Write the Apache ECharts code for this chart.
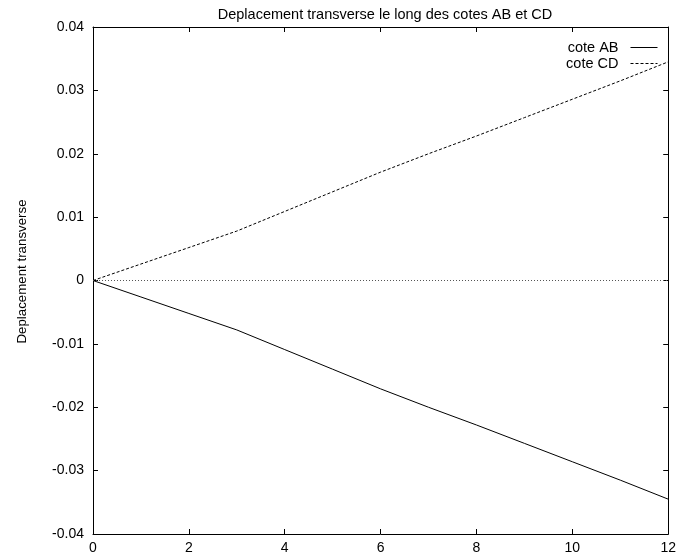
<!DOCTYPE html>
<html>
<head>
<meta charset="utf-8">
<script src="https://cdn.jsdelivr.net/npm/echarts@6/dist/echarts.min.js"></script>
<style>html,body{margin:0;padding:0;background:#fff}#c{width:679px;height:560px}</style>
</head>
<body>
<div id="c"></div>
<script>
var titleText = 'Deplacement transverse le long des cotes AB et CD';
var yName = 'Deplacement transverse';
var xs = [0, 1, 2, 3, 4, 5, 6, 7, 8, 9, 10, 11, 12];
var coteAB = [0, -0.0026, -0.0052, -0.0078, -0.0109, -0.0140, -0.0171, -0.0200, -0.0228, -0.0257, -0.0286, -0.0315, -0.0345];
var coteCD = [0, 0.0026, 0.0052, 0.0078, 0.0109, 0.0140, 0.0171, 0.0200, 0.0228, 0.0257, 0.0286, 0.0315, 0.0345];
var seriesNames = ['cote AB', 'cote CD'];

function pairs(v) { return xs.map(function (x, i) { return [x, v[i]]; }); }

var font = 'Liberation Sans, Arial, Helvetica, sans-serif';
var chart = echarts.init(document.getElementById('c'));
function axisCommon() {
  return {
    axisLine: { show: true, onZero: false, lineStyle: { color: '#000', width: 1 } },
    axisTick: { show: true, inside: true, length: 5, lineStyle: { color: '#000' } },
    splitLine: { show: false }
  };
}
chart.setOption({
  animation: false,
  backgroundColor: '#fff',
  textStyle: { fontFamily: font },
  title: {
    text: titleText, left: 380, top: 2, textAlign: 'center',
    textStyle: { fontSize: 14.5, fontWeight: 'normal', color: '#000', fontFamily: font }
  },
  grid: { left: 93, right: 8, top: 27, bottom: 26 },
  legend: {
    orient: 'vertical', right: 16, top: 34.5, align: 'right',
    itemWidth: 27, itemHeight: 10, itemGap: 0,
    itemStyle: { opacity: 0 },
    lineStyle: { width: 1, color: '#000' },
    textStyle: { fontSize: 14.5, lineHeight: 16, color: '#000', fontFamily: font, padding: [0, 7, 0, 0] },
    data: seriesNames
  },
  xAxis: [
    Object.assign({ type: 'value', min: 0, max: 12, interval: 2, position: 'bottom',
      axisLabel: { fontSize: 14, color: '#000', margin: 7, fontFamily: font } }, axisCommon()),
    Object.assign({ type: 'value', min: 0, max: 12, interval: 2, position: 'top',
      axisLabel: { show: false } }, axisCommon())
  ],
  yAxis: [
    Object.assign({ type: 'value', min: -0.04, max: 0.04, interval: 0.01, position: 'left',
      name: yName, nameLocation: 'middle', nameGap: 64, nameRotate: 90,
      nameTextStyle: { fontSize: 13.3, color: '#000', fontFamily: font, padding: [0, 0, 0, 18] },
      axisLabel: { fontSize: 14, color: '#000', margin: 9, fontFamily: font } }, axisCommon()),
    Object.assign({ type: 'value', min: -0.04, max: 0.04, interval: 0.01, position: 'right',
      axisLabel: { show: false } }, axisCommon())
  ],
  series: [
    {
      name: seriesNames[0], type: 'line', data: pairs(coteAB), symbol: 'none',
      lineStyle: { color: '#000', width: 1, type: 'solid' }, itemStyle: { color: '#000' },
      markLine: {
        silent: true, symbol: 'none', label: { show: false },
        lineStyle: { color: '#555', width: 1, type: [1, 2] },
        data: [{ yAxis: 0 }]
      }
    },
    {
      name: seriesNames[1], type: 'line', data: pairs(coteCD), symbol: 'none',
      lineStyle: { color: '#000', width: 1, type: [3, 2] }, itemStyle: { color: '#000' }
    }
  ]
});
</script>
</body>
</html>
